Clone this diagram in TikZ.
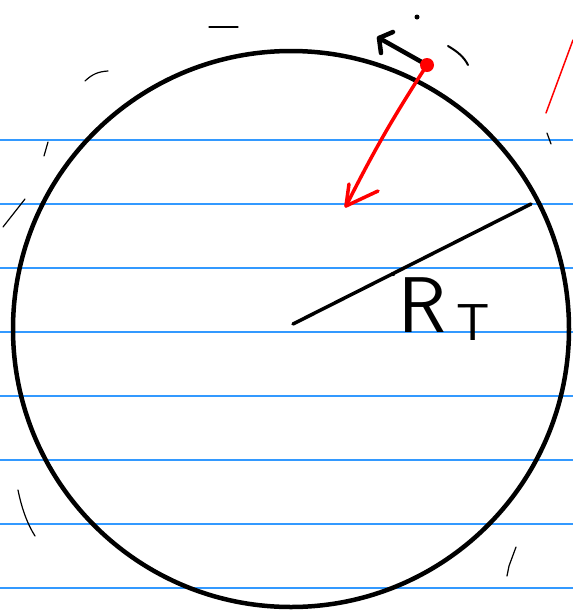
\documentclass[tikz,border=0pt]{standalone}
\usepackage{tikz}
\usetikzlibrary{arrows.meta,calc}
\definecolor{ruleblue}{RGB}{51,153,255}

\begin{document}
\begin{tikzpicture}[x=1pt,y=-1pt,>=Latex,line cap=round,line join=round,
  scribble/.style={black,line width=1.2pt},
  ink/.style={black,line width=3.5pt},
  redink/.style={red,line width=3.5pt}]
\useasboundingbox (0,0) rectangle (573,614);
\fill[white] (0,0) rectangle (573,614);
\pgfmathsetmacro{\cx}{291}
\pgfmathsetmacro{\cy}{329}
\pgfmathsetmacro{\rr}{278}
\foreach \k in {0,...,7}
  \draw[ruleblue,line width=1.3pt] (0,{140+64*\k}) -- (573,{140+64*\k});
\draw[line width=4.5pt] (\cx,\cy) circle[radius=\rr];
\coordinate (centre) at (293,324);
\coordinate (rim) at (531,204);
\draw[ink] (centre) -- (rim);
\fill (393,274) circle[radius=2.2];
\node[anchor=base west,inner sep=0,font=\sffamily\fontsize{79}{79}\selectfont] (radius) at (398,332) {R};
\node[anchor=base west,inner sep=0,font=\sffamily\fontsize{52}{52}\selectfont] (index) at (456,340) {T};
\coordinate (sat) at (427,65);
\coordinate (vtip) at (379,38);
\coordinate (ftip) at (346,206);
\draw[line width=4.5pt] (sat) -- (vtip);
\draw[line width=4.5pt] (393,32) -- (vtip) -- (381,53);
\draw[redink] (sat) to[bend right=3] (ftip);
\draw[redink] (349,184) -- (ftip) -- (378,191);
\node[circle,fill=red,inner sep=0,minimum size=14pt] (satellite) at (sat) {};
\fill (417,17) circle[radius=2.5];
\draw[scribble] (209,27) -- (238,27);
\draw[scribble] (85,81) to[bend left=20] (108,71);
\draw[scribble] (48,142) -- (44,156);
\draw[scribble] (25,199) -- (3,227);
\draw[scribble] (18,490) .. controls (22,510) and (28,525) .. (35,536);
\draw[scribble] (516,547) -- (509,566) -- (507,576);
\draw[scribble] (547,133) -- (551,144);
\draw[black,line width=2pt] (448,46) .. controls (458,52) and (464,57) .. (468,65);
\draw[red,line width=1.5pt] (546,113) -- (573,40);
\end{tikzpicture}
\end{document}
